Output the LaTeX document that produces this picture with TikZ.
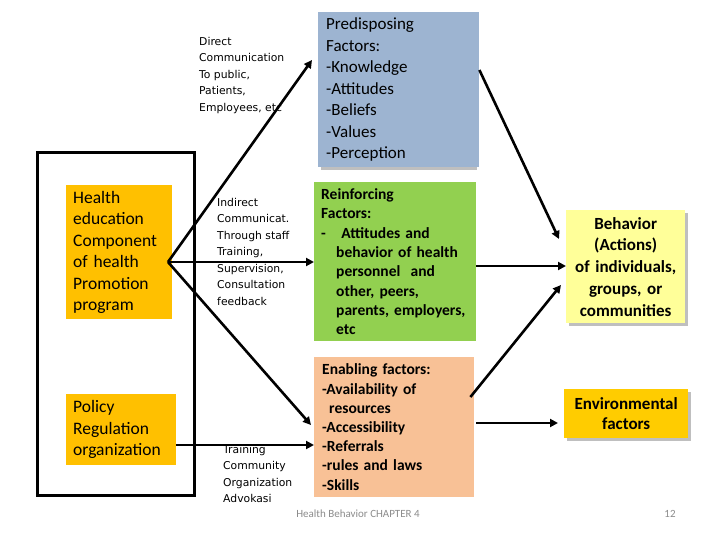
\documentclass[tikz,border=0pt]{standalone}
\usepackage{fontspec}
\setmainfont{Carlito}
\newfontfamily\smallf{DejaVu Sans}
\usetikzlibrary{arrows.meta}
\definecolor{orng}{HTML}{FFC000}
\definecolor{blu}{HTML}{9DB4D1}
\definecolor{grn}{HTML}{92D050}
\definecolor{pch}{HTML}{F8C196}
\definecolor{lyel}{HTML}{FFFF99}
\definecolor{env}{HTML}{FFCC00}
\begin{document}
\begin{tikzpicture}[x=1pt,y=-1pt,
  box/.style={anchor=north west,inner sep=0pt,align=left},
  lbl/.style={anchor=north west,inner sep=0pt,align=left,font=\smallf\fontsize{10.8}{16.5}\selectfont},
  arr/.style={line width=2.6pt,-{Triangle[length=8pt,width=8pt]}},
  shad/.style={fill=black!25}]
\useasboundingbox (0,0) rectangle (720,540);
\fill[white] (0,0) rectangle (720,540);
% outer frame
\node[draw,line width=3pt,minimum width=157pt,minimum height=343pt,anchor=north west,inner sep=0pt] (frame) at (36,151) {};
% left boxes
\node[box,fill=orng,minimum width=102pt,minimum height=134pt,text width=92pt,inner xsep=7pt,font=\fontsize{17.5}{21.5}\selectfont] (he) at (66,185) {Health\\education\\Component\\of health\\Promotion\\program};
\node[box,fill=orng,minimum width=106pt,minimum height=71pt,text width=96pt,inner xsep=7pt,font=\fontsize{17.5}{21.5}\selectfont] (pol) at (66,394) {Policy\\Regulation\\organization};
% factor boxes
\fill[shad] (321,15) rectangle (477,170);
\node[box,fill=blu,minimum width=156pt,minimum height=155pt,text width=145pt,inner xsep=8pt,font=\fontsize{17}{21.5}\selectfont] (pre) at (318,12) {Predisposing\\Factors:\\-Knowledge\\-Attitudes\\-Beliefs\\-Values\\-Perception};
\node[box,fill=grn,minimum width=162pt,minimum height=159pt,text width=158pt,inner xsep=2pt,font=\bfseries\fontsize{15.5}{19.3}\selectfont] (rei) at (314,182) {\hspace*{5pt}Reinforcing\\\hspace*{5pt}Factors:\\\hspace*{5pt}-\ \ \ Attitudes and\\\hspace*{20pt}behavior of health\\\hspace*{20pt}personnel\ \ and\\\hspace*{20pt}other, peers,\\\hspace*{20pt}parents, employers,\\\hspace*{20pt}etc};
\node[box,fill=pch,minimum width=160pt,minimum height=140pt,text width=154pt,inner xsep=3pt,font=\bfseries\fontsize{15.5}{19.2}\selectfont] (ena) at (314,357) {\hspace*{5pt}Enabling factors:\\\hspace*{5pt}-Availability of\\\hspace*{12pt}resources\\\hspace*{5pt}-Accessibility\\\hspace*{5pt}-Referrals\\\hspace*{5pt}-rules and laws\\\hspace*{5pt}-Skills};
% right boxes
\fill[shad] (569,213) rectangle (688,326);
\node[box,fill=lyel,minimum width=119pt,minimum height=113pt,text width=119pt,align=center,font=\bfseries\fontsize{17}{21.7}\selectfont] (beh) at (566,210) {Behavior\\(Actions)\\of individuals,\\groups, or\\communities};
\fill[shad] (567,392) rectangle (691,441);
\node[box,fill=env,minimum width=124pt,minimum height=49pt,text width=124pt,align=center,font=\bfseries\fontsize{17}{20}\selectfont] (env) at (564,389) {Environmental\\factors};
% labels
\node[lbl] (l1) at (199,37) {Direct\\Communication\\To public,\\Patients,\\Employees, etc};
\node[lbl] (l2) at (217,198) {Indirect\\Communicat.\\Through staff\\Training,\\Supervision,\\Consultation\\feedback};
\node[lbl] (l3) at (223,445) {Training\\Community\\Organization\\Advokasi};
\node[anchor=center,inner sep=0pt,text=black!45,font=\fontsize{11}{12}\selectfont] (foot) at (358,514) {Health Behavior CHAPTER 4};
\node[anchor=center,inner sep=0pt,text=black!45,font=\fontsize{11}{12}\selectfont] (pg) at (670,514) {12};
% arrows
\coordinate (hs) at (168,262);
\draw[arr] (hs) -- ([xshift=-6pt]pre.west |- 0,60);
\draw[arr] (hs) -- (rei.west |- hs);
\draw[arr] (hs) -- ([xshift=-3pt]ena.west |- 0,425);
\draw[arr] (pol.east |- 0,445) -- (ena.west |- 0,445);
\draw[arr] (pre.east |- 0,70) -- ([xshift=-7pt]beh.west |- 0,239);
\draw[arr,line width=2pt] (rei.east |- 0,266) -- (beh.west |- 0,266);
\draw[arr] ([xshift=-4pt]ena.east |- 0,397) -- ([xshift=-5pt]beh.west |- 0,285);
\draw[arr,line width=2pt] ([xshift=2pt]ena.east |- 0,423) -- ([xshift=-6pt]env.west |- 0,423);
\end{tikzpicture}
\end{document}
